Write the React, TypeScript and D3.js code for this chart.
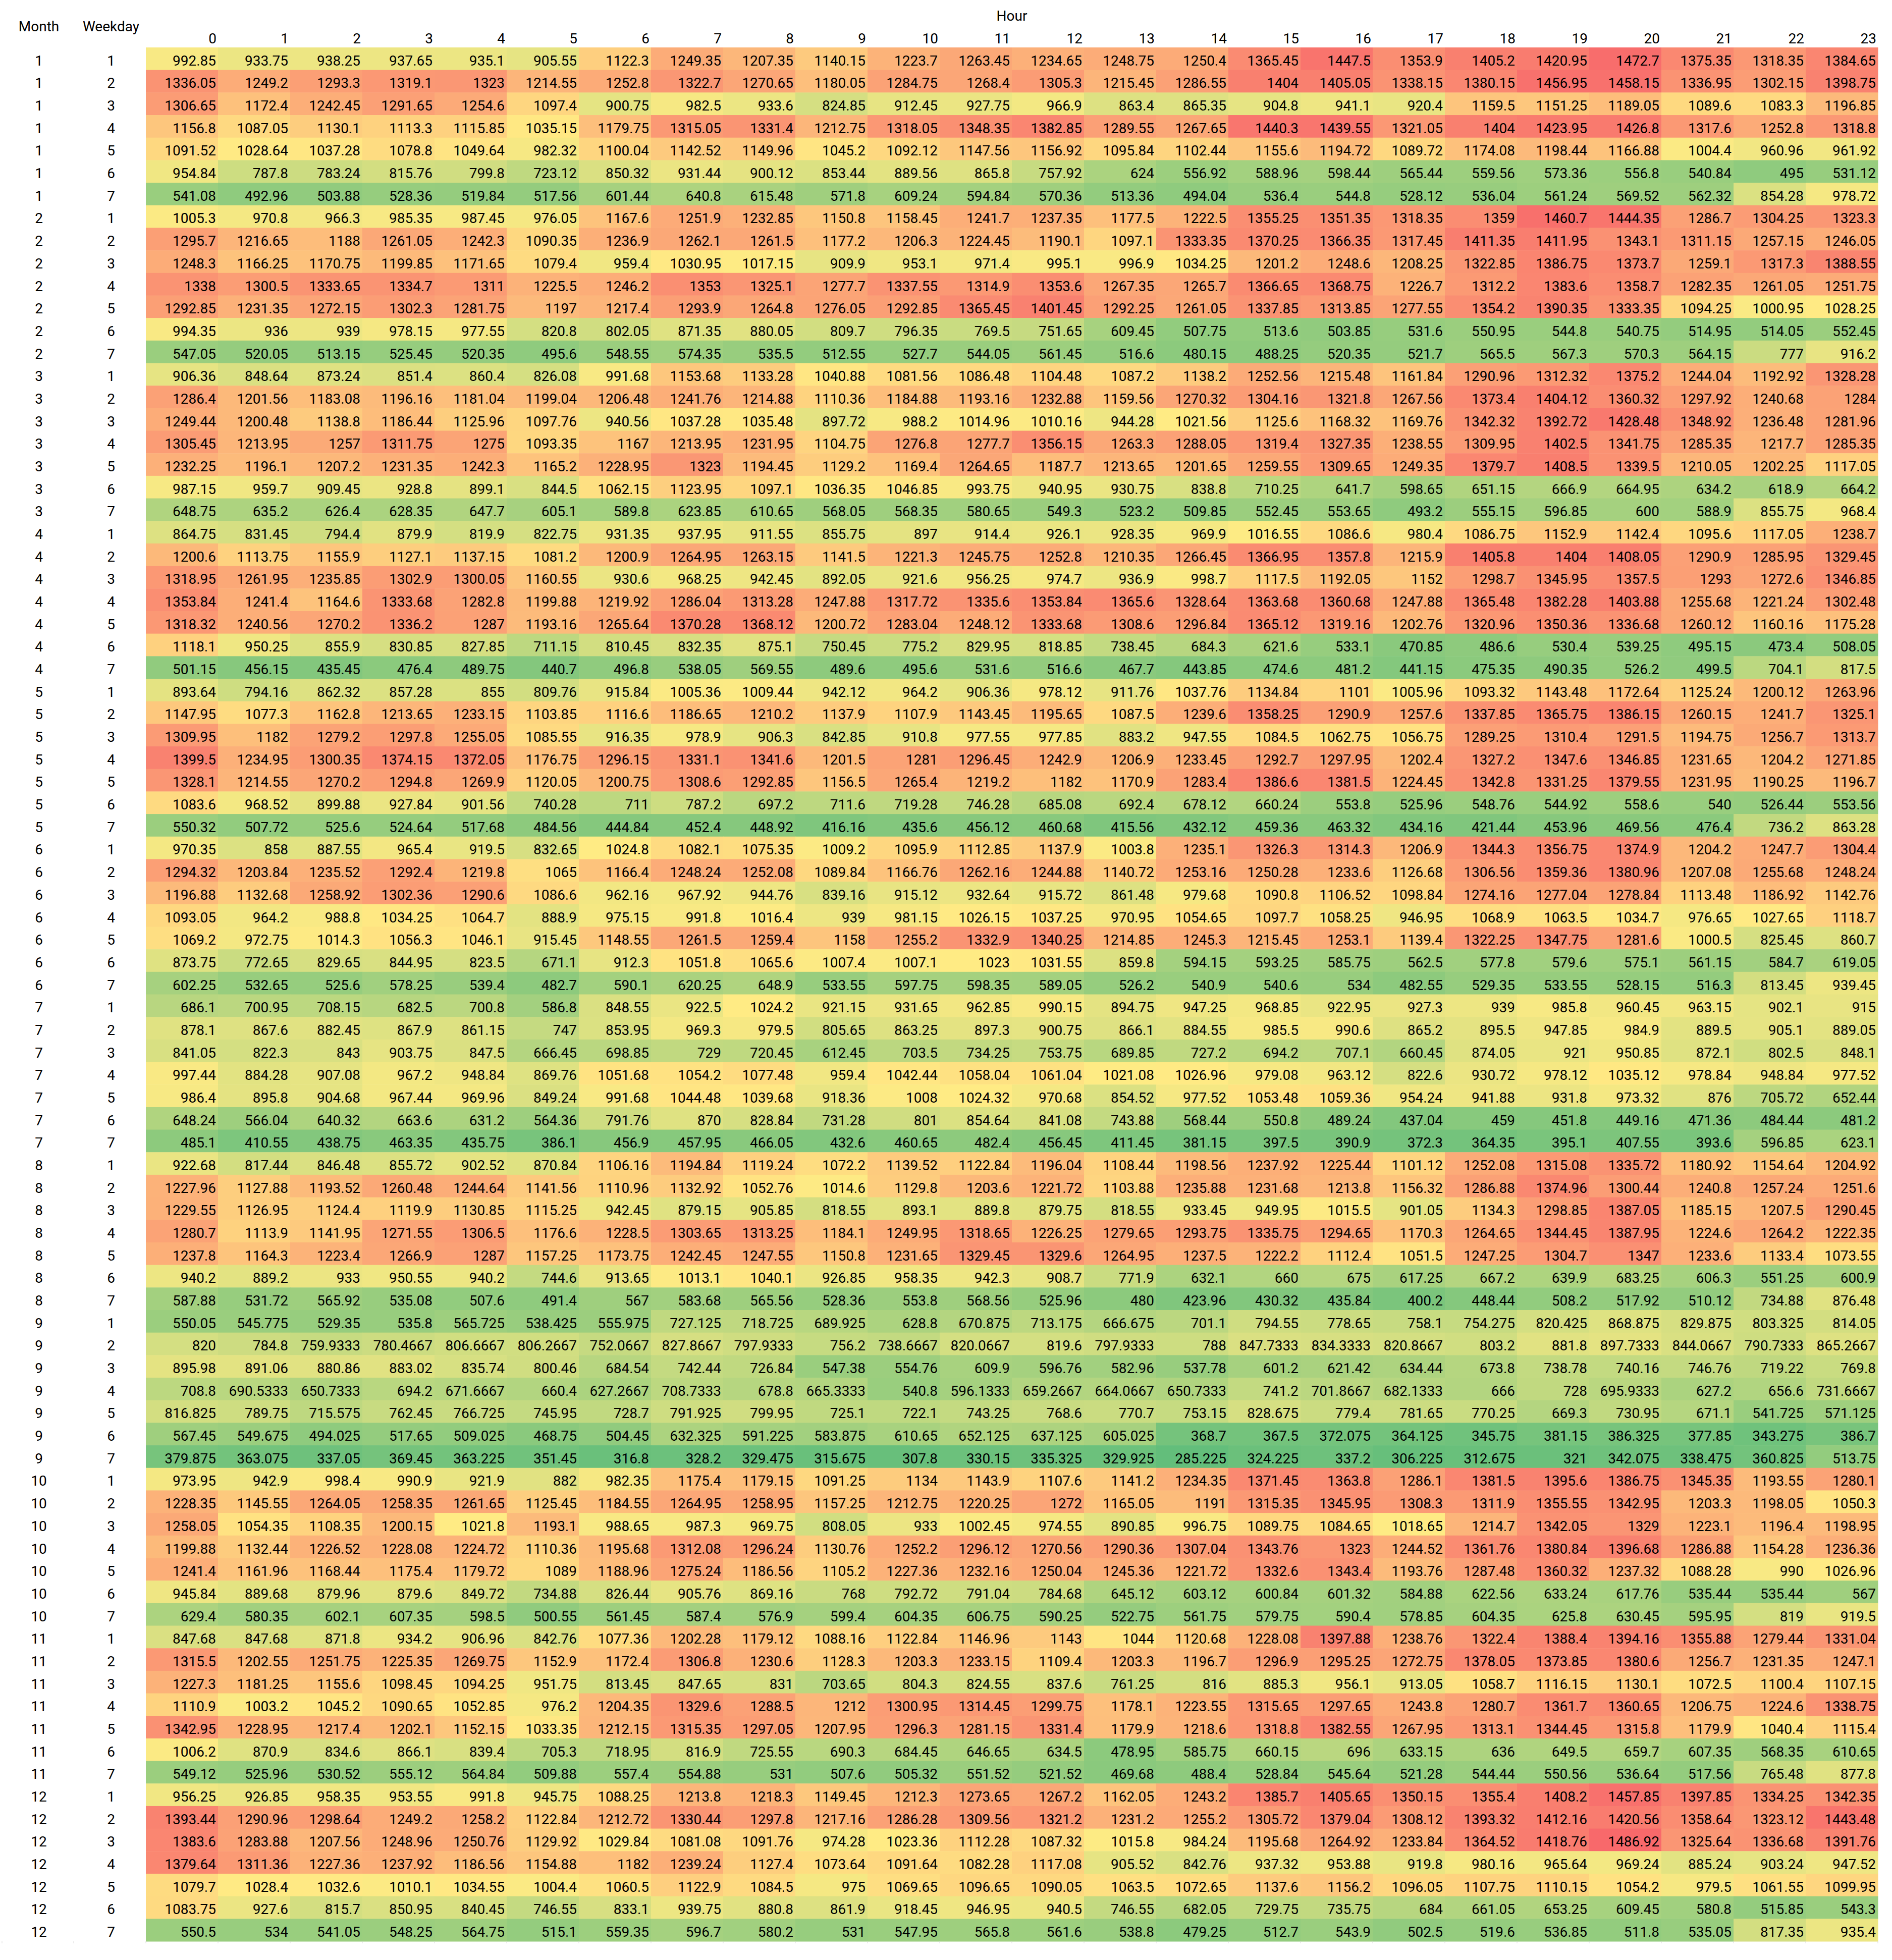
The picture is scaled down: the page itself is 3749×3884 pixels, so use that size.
import React from "react";
import * as d3 from "d3";

const hours = [0, 1, 2, 3, 4, 5, 6, 7, 8, 9, 10, 11, 12, 13, 14, 15, 16, 17, 18, 19, 20, 21, 22, 23];
const months = [1, 2, 3, 4, 5, 6, 7, 8, 9, 10, 11, 12];
const weekdays = [1, 2, 3, 4, 5, 6, 7];

// one array per month, one row per weekday, 24 hourly values
const month1 = [
  [992.85, 933.75, 938.25, 937.65, 935.1, 905.55, 1122.3, 1249.35, 1207.35, 1140.15, 1223.7, 1263.45, 1234.65, 1248.75, 1250.4, 1365.45, 1447.5, 1353.9, 1405.2, 1420.95, 1472.7, 1375.35, 1318.35, 1384.65],
  [1336.05, 1249.2, 1293.3, 1319.1, 1323, 1214.55, 1252.8, 1322.7, 1270.65, 1180.05, 1284.75, 1268.4, 1305.3, 1215.45, 1286.55, 1404, 1405.05, 1338.15, 1380.15, 1456.95, 1458.15, 1336.95, 1302.15, 1398.75],
  [1306.65, 1172.4, 1242.45, 1291.65, 1254.6, 1097.4, 900.75, 982.5, 933.6, 824.85, 912.45, 927.75, 966.9, 863.4, 865.35, 904.8, 941.1, 920.4, 1159.5, 1151.25, 1189.05, 1089.6, 1083.3, 1196.85],
  [1156.8, 1087.05, 1130.1, 1113.3, 1115.85, 1035.15, 1179.75, 1315.05, 1331.4, 1212.75, 1318.05, 1348.35, 1382.85, 1289.55, 1267.65, 1440.3, 1439.55, 1321.05, 1404, 1423.95, 1426.8, 1317.6, 1252.8, 1318.8],
  [1091.52, 1028.64, 1037.28, 1078.8, 1049.64, 982.32, 1100.04, 1142.52, 1149.96, 1045.2, 1092.12, 1147.56, 1156.92, 1095.84, 1102.44, 1155.6, 1194.72, 1089.72, 1174.08, 1198.44, 1166.88, 1004.4, 960.96, 961.92],
  [954.84, 787.8, 783.24, 815.76, 799.8, 723.12, 850.32, 931.44, 900.12, 853.44, 889.56, 865.8, 757.92, 624, 556.92, 588.96, 598.44, 565.44, 559.56, 573.36, 556.8, 540.84, 495, 531.12],
  [541.08, 492.96, 503.88, 528.36, 519.84, 517.56, 601.44, 640.8, 615.48, 571.8, 609.24, 594.84, 570.36, 513.36, 494.04, 536.4, 544.8, 528.12, 536.04, 561.24, 569.52, 562.32, 854.28, 978.72],
];
const month2 = [
  [1005.3, 970.8, 966.3, 985.35, 987.45, 976.05, 1167.6, 1251.9, 1232.85, 1150.8, 1158.45, 1241.7, 1237.35, 1177.5, 1222.5, 1355.25, 1351.35, 1318.35, 1359, 1460.7, 1444.35, 1286.7, 1304.25, 1323.3],
  [1295.7, 1216.65, 1188, 1261.05, 1242.3, 1090.35, 1236.9, 1262.1, 1261.5, 1177.2, 1206.3, 1224.45, 1190.1, 1097.1, 1333.35, 1370.25, 1366.35, 1317.45, 1411.35, 1411.95, 1343.1, 1311.15, 1257.15, 1246.05],
  [1248.3, 1166.25, 1170.75, 1199.85, 1171.65, 1079.4, 959.4, 1030.95, 1017.15, 909.9, 953.1, 971.4, 995.1, 996.9, 1034.25, 1201.2, 1248.6, 1208.25, 1322.85, 1386.75, 1373.7, 1259.1, 1317.3, 1388.55],
  [1338, 1300.5, 1333.65, 1334.7, 1311, 1225.5, 1246.2, 1353, 1325.1, 1277.7, 1337.55, 1314.9, 1353.6, 1267.35, 1265.7, 1366.65, 1368.75, 1226.7, 1312.2, 1383.6, 1358.7, 1282.35, 1261.05, 1251.75],
  [1292.85, 1231.35, 1272.15, 1302.3, 1281.75, 1197, 1217.4, 1293.9, 1264.8, 1276.05, 1292.85, 1365.45, 1401.45, 1292.25, 1261.05, 1337.85, 1313.85, 1277.55, 1354.2, 1390.35, 1333.35, 1094.25, 1000.95, 1028.25],
  [994.35, 936, 939, 978.15, 977.55, 820.8, 802.05, 871.35, 880.05, 809.7, 796.35, 769.5, 751.65, 609.45, 507.75, 513.6, 503.85, 531.6, 550.95, 544.8, 540.75, 514.95, 514.05, 552.45],
  [547.05, 520.05, 513.15, 525.45, 520.35, 495.6, 548.55, 574.35, 535.5, 512.55, 527.7, 544.05, 561.45, 516.6, 480.15, 488.25, 520.35, 521.7, 565.5, 567.3, 570.3, 564.15, 777, 916.2],
];
const month3 = [
  [906.36, 848.64, 873.24, 851.4, 860.4, 826.08, 991.68, 1153.68, 1133.28, 1040.88, 1081.56, 1086.48, 1104.48, 1087.2, 1138.2, 1252.56, 1215.48, 1161.84, 1290.96, 1312.32, 1375.2, 1244.04, 1192.92, 1328.28],
  [1286.4, 1201.56, 1183.08, 1196.16, 1181.04, 1199.04, 1206.48, 1241.76, 1214.88, 1110.36, 1184.88, 1193.16, 1232.88, 1159.56, 1270.32, 1304.16, 1321.8, 1267.56, 1373.4, 1404.12, 1360.32, 1297.92, 1240.68, 1284],
  [1249.44, 1200.48, 1138.8, 1186.44, 1125.96, 1097.76, 940.56, 1037.28, 1035.48, 897.72, 988.2, 1014.96, 1010.16, 944.28, 1021.56, 1125.6, 1168.32, 1169.76, 1342.32, 1392.72, 1428.48, 1348.92, 1236.48, 1281.96],
  [1305.45, 1213.95, 1257, 1311.75, 1275, 1093.35, 1167, 1213.95, 1231.95, 1104.75, 1276.8, 1277.7, 1356.15, 1263.3, 1288.05, 1319.4, 1327.35, 1238.55, 1309.95, 1402.5, 1341.75, 1285.35, 1217.7, 1285.35],
  [1232.25, 1196.1, 1207.2, 1231.35, 1242.3, 1165.2, 1228.95, 1323, 1194.45, 1129.2, 1169.4, 1264.65, 1187.7, 1213.65, 1201.65, 1259.55, 1309.65, 1249.35, 1379.7, 1408.5, 1339.5, 1210.05, 1202.25, 1117.05],
  [987.15, 959.7, 909.45, 928.8, 899.1, 844.5, 1062.15, 1123.95, 1097.1, 1036.35, 1046.85, 993.75, 940.95, 930.75, 838.8, 710.25, 641.7, 598.65, 651.15, 666.9, 664.95, 634.2, 618.9, 664.2],
  [648.75, 635.2, 626.4, 628.35, 647.7, 605.1, 589.8, 623.85, 610.65, 568.05, 568.35, 580.65, 549.3, 523.2, 509.85, 552.45, 553.65, 493.2, 555.15, 596.85, 600, 588.9, 855.75, 968.4],
];
const month4 = [
  [864.75, 831.45, 794.4, 879.9, 819.9, 822.75, 931.35, 937.95, 911.55, 855.75, 897, 914.4, 926.1, 928.35, 969.9, 1016.55, 1086.6, 980.4, 1086.75, 1152.9, 1142.4, 1095.6, 1117.05, 1238.7],
  [1200.6, 1113.75, 1155.9, 1127.1, 1137.15, 1081.2, 1200.9, 1264.95, 1263.15, 1141.5, 1221.3, 1245.75, 1252.8, 1210.35, 1266.45, 1366.95, 1357.8, 1215.9, 1405.8, 1404, 1408.05, 1290.9, 1285.95, 1329.45],
  [1318.95, 1261.95, 1235.85, 1302.9, 1300.05, 1160.55, 930.6, 968.25, 942.45, 892.05, 921.6, 956.25, 974.7, 936.9, 998.7, 1117.5, 1192.05, 1152, 1298.7, 1345.95, 1357.5, 1293, 1272.6, 1346.85],
  [1353.84, 1241.4, 1164.6, 1333.68, 1282.8, 1199.88, 1219.92, 1286.04, 1313.28, 1247.88, 1317.72, 1335.6, 1353.84, 1365.6, 1328.64, 1363.68, 1360.68, 1247.88, 1365.48, 1382.28, 1403.88, 1255.68, 1221.24, 1302.48],
  [1318.32, 1240.56, 1270.2, 1336.2, 1287, 1193.16, 1265.64, 1370.28, 1368.12, 1200.72, 1283.04, 1248.12, 1333.68, 1308.6, 1296.84, 1365.12, 1319.16, 1202.76, 1320.96, 1350.36, 1336.68, 1260.12, 1160.16, 1175.28],
  [1118.1, 950.25, 855.9, 830.85, 827.85, 711.15, 810.45, 832.35, 875.1, 750.45, 775.2, 829.95, 818.85, 738.45, 684.3, 621.6, 533.1, 470.85, 486.6, 530.4, 539.25, 495.15, 473.4, 508.05],
  [501.15, 456.15, 435.45, 476.4, 489.75, 440.7, 496.8, 538.05, 569.55, 489.6, 495.6, 531.6, 516.6, 467.7, 443.85, 474.6, 481.2, 441.15, 475.35, 490.35, 526.2, 499.5, 704.1, 817.5],
];
const month5 = [
  [893.64, 794.16, 862.32, 857.28, 855, 809.76, 915.84, 1005.36, 1009.44, 942.12, 964.2, 906.36, 978.12, 911.76, 1037.76, 1134.84, 1101, 1005.96, 1093.32, 1143.48, 1172.64, 1125.24, 1200.12, 1263.96],
  [1147.95, 1077.3, 1162.8, 1213.65, 1233.15, 1103.85, 1116.6, 1186.65, 1210.2, 1137.9, 1107.9, 1143.45, 1195.65, 1087.5, 1239.6, 1358.25, 1290.9, 1257.6, 1337.85, 1365.75, 1386.15, 1260.15, 1241.7, 1325.1],
  [1309.95, 1182, 1279.2, 1297.8, 1255.05, 1085.55, 916.35, 978.9, 906.3, 842.85, 910.8, 977.55, 977.85, 883.2, 947.55, 1084.5, 1062.75, 1056.75, 1289.25, 1310.4, 1291.5, 1194.75, 1256.7, 1313.7],
  [1399.5, 1234.95, 1300.35, 1374.15, 1372.05, 1176.75, 1296.15, 1331.1, 1341.6, 1201.5, 1281, 1296.45, 1242.9, 1206.9, 1233.45, 1292.7, 1297.95, 1202.4, 1327.2, 1347.6, 1346.85, 1231.65, 1204.2, 1271.85],
  [1328.1, 1214.55, 1270.2, 1294.8, 1269.9, 1120.05, 1200.75, 1308.6, 1292.85, 1156.5, 1265.4, 1219.2, 1182, 1170.9, 1283.4, 1386.6, 1381.5, 1224.45, 1342.8, 1331.25, 1379.55, 1231.95, 1190.25, 1196.7],
  [1083.6, 968.52, 899.88, 927.84, 901.56, 740.28, 711, 787.2, 697.2, 711.6, 719.28, 746.28, 685.08, 692.4, 678.12, 660.24, 553.8, 525.96, 548.76, 544.92, 558.6, 540, 526.44, 553.56],
  [550.32, 507.72, 525.6, 524.64, 517.68, 484.56, 444.84, 452.4, 448.92, 416.16, 435.6, 456.12, 460.68, 415.56, 432.12, 459.36, 463.32, 434.16, 421.44, 453.96, 469.56, 476.4, 736.2, 863.28],
];
const month6 = [
  [970.35, 858, 887.55, 965.4, 919.5, 832.65, 1024.8, 1082.1, 1075.35, 1009.2, 1095.9, 1112.85, 1137.9, 1003.8, 1235.1, 1326.3, 1314.3, 1206.9, 1344.3, 1356.75, 1374.9, 1204.2, 1247.7, 1304.4],
  [1294.32, 1203.84, 1235.52, 1292.4, 1219.8, 1065, 1166.4, 1248.24, 1252.08, 1089.84, 1166.76, 1262.16, 1244.88, 1140.72, 1253.16, 1250.28, 1233.6, 1126.68, 1306.56, 1359.36, 1380.96, 1207.08, 1255.68, 1248.24],
  [1196.88, 1132.68, 1258.92, 1302.36, 1290.6, 1086.6, 962.16, 967.92, 944.76, 839.16, 915.12, 932.64, 915.72, 861.48, 979.68, 1090.8, 1106.52, 1098.84, 1274.16, 1277.04, 1278.84, 1113.48, 1186.92, 1142.76],
  [1093.05, 964.2, 988.8, 1034.25, 1064.7, 888.9, 975.15, 991.8, 1016.4, 939, 981.15, 1026.15, 1037.25, 970.95, 1054.65, 1097.7, 1058.25, 946.95, 1068.9, 1063.5, 1034.7, 976.65, 1027.65, 1118.7],
  [1069.2, 972.75, 1014.3, 1056.3, 1046.1, 915.45, 1148.55, 1261.5, 1259.4, 1158, 1255.2, 1332.9, 1340.25, 1214.85, 1245.3, 1215.45, 1253.1, 1139.4, 1322.25, 1347.75, 1281.6, 1000.5, 825.45, 860.7],
  [873.75, 772.65, 829.65, 844.95, 823.5, 671.1, 912.3, 1051.8, 1065.6, 1007.4, 1007.1, 1023, 1031.55, 859.8, 594.15, 593.25, 585.75, 562.5, 577.8, 579.6, 575.1, 561.15, 584.7, 619.05],
  [602.25, 532.65, 525.6, 578.25, 539.4, 482.7, 590.1, 620.25, 648.9, 533.55, 597.75, 598.35, 589.05, 526.2, 540.9, 540.6, 534, 482.55, 529.35, 533.55, 528.15, 516.3, 813.45, 939.45],
];
const month7 = [
  [686.1, 700.95, 708.15, 682.5, 700.8, 586.8, 848.55, 922.5, 1024.2, 921.15, 931.65, 962.85, 990.15, 894.75, 947.25, 968.85, 922.95, 927.3, 939, 985.8, 960.45, 963.15, 902.1, 915],
  [878.1, 867.6, 882.45, 867.9, 861.15, 747, 853.95, 969.3, 979.5, 805.65, 863.25, 897.3, 900.75, 866.1, 884.55, 985.5, 990.6, 865.2, 895.5, 947.85, 984.9, 889.5, 905.1, 889.05],
  [841.05, 822.3, 843, 903.75, 847.5, 666.45, 698.85, 729, 720.45, 612.45, 703.5, 734.25, 753.75, 689.85, 727.2, 694.2, 707.1, 660.45, 874.05, 921, 950.85, 872.1, 802.5, 848.1],
  [997.44, 884.28, 907.08, 967.2, 948.84, 869.76, 1051.68, 1054.2, 1077.48, 959.4, 1042.44, 1058.04, 1061.04, 1021.08, 1026.96, 979.08, 963.12, 822.6, 930.72, 978.12, 1035.12, 978.84, 948.84, 977.52],
  [986.4, 895.8, 904.68, 967.44, 969.96, 849.24, 991.68, 1044.48, 1039.68, 918.36, 1008, 1024.32, 970.68, 854.52, 977.52, 1053.48, 1059.36, 954.24, 941.88, 931.8, 973.32, 876, 705.72, 652.44],
  [648.24, 566.04, 640.32, 663.6, 631.2, 564.36, 791.76, 870, 828.84, 731.28, 801, 854.64, 841.08, 743.88, 568.44, 550.8, 489.24, 437.04, 459, 451.8, 449.16, 471.36, 484.44, 481.2],
  [485.1, 410.55, 438.75, 463.35, 435.75, 386.1, 456.9, 457.95, 466.05, 432.6, 460.65, 482.4, 456.45, 411.45, 381.15, 397.5, 390.9, 372.3, 364.35, 395.1, 407.55, 393.6, 596.85, 623.1],
];
const month8 = [
  [922.68, 817.44, 846.48, 855.72, 902.52, 870.84, 1106.16, 1194.84, 1119.24, 1072.2, 1139.52, 1122.84, 1196.04, 1108.44, 1198.56, 1237.92, 1225.44, 1101.12, 1252.08, 1315.08, 1335.72, 1180.92, 1154.64, 1204.92],
  [1227.96, 1127.88, 1193.52, 1260.48, 1244.64, 1141.56, 1110.96, 1132.92, 1052.76, 1014.6, 1129.8, 1203.6, 1221.72, 1103.88, 1235.88, 1231.68, 1213.8, 1156.32, 1286.88, 1374.96, 1300.44, 1240.8, 1257.24, 1251.6],
  [1229.55, 1126.95, 1124.4, 1119.9, 1130.85, 1115.25, 942.45, 879.15, 905.85, 818.55, 893.1, 889.8, 879.75, 818.55, 933.45, 949.95, 1015.5, 901.05, 1134.3, 1298.85, 1387.05, 1185.15, 1207.5, 1290.45],
  [1280.7, 1113.9, 1141.95, 1271.55, 1306.5, 1176.6, 1228.5, 1303.65, 1313.25, 1184.1, 1249.95, 1318.65, 1226.25, 1279.65, 1293.75, 1335.75, 1294.65, 1170.3, 1264.65, 1344.45, 1387.95, 1224.6, 1264.2, 1222.35],
  [1237.8, 1164.3, 1223.4, 1266.9, 1287, 1157.25, 1173.75, 1242.45, 1247.55, 1150.8, 1231.65, 1329.45, 1329.6, 1264.95, 1237.5, 1222.2, 1112.4, 1051.5, 1247.25, 1304.7, 1347, 1233.6, 1133.4, 1073.55],
  [940.2, 889.2, 933, 950.55, 940.2, 744.6, 913.65, 1013.1, 1040.1, 926.85, 958.35, 942.3, 908.7, 771.9, 632.1, 660, 675, 617.25, 667.2, 639.9, 683.25, 606.3, 551.25, 600.9],
  [587.88, 531.72, 565.92, 535.08, 507.6, 491.4, 567, 583.68, 565.56, 528.36, 553.8, 568.56, 525.96, 480, 423.96, 430.32, 435.84, 400.2, 448.44, 508.2, 517.92, 510.12, 734.88, 876.48],
];
const month9 = [
  [550.05, 545.775, 529.35, 535.8, 565.725, 538.425, 555.975, 727.125, 718.725, 689.925, 628.8, 670.875, 713.175, 666.675, 701.1, 794.55, 778.65, 758.1, 754.275, 820.425, 868.875, 829.875, 803.325, 814.05],
  [820, 784.8, 759.9333, 780.4667, 806.6667, 806.2667, 752.0667, 827.8667, 797.9333, 756.2, 738.6667, 820.0667, 819.6, 797.9333, 788, 847.7333, 834.3333, 820.8667, 803.2, 881.8, 897.7333, 844.0667, 790.7333, 865.2667],
  [895.98, 891.06, 880.86, 883.02, 835.74, 800.46, 684.54, 742.44, 726.84, 547.38, 554.76, 609.9, 596.76, 582.96, 537.78, 601.2, 621.42, 634.44, 673.8, 738.78, 740.16, 746.76, 719.22, 769.8],
  [708.8, 690.5333, 650.7333, 694.2, 671.6667, 660.4, 627.2667, 708.7333, 678.8, 665.3333, 540.8, 596.1333, 659.2667, 664.0667, 650.7333, 741.2, 701.8667, 682.1333, 666, 728, 695.9333, 627.2, 656.6, 731.6667],
  [816.825, 789.75, 715.575, 762.45, 766.725, 745.95, 728.7, 791.925, 799.95, 725.1, 722.1, 743.25, 768.6, 770.7, 753.15, 828.675, 779.4, 781.65, 770.25, 669.3, 730.95, 671.1, 541.725, 571.125],
  [567.45, 549.675, 494.025, 517.65, 509.025, 468.75, 504.45, 632.325, 591.225, 583.875, 610.65, 652.125, 637.125, 605.025, 368.7, 367.5, 372.075, 364.125, 345.75, 381.15, 386.325, 377.85, 343.275, 386.7],
  [379.875, 363.075, 337.05, 369.45, 363.225, 351.45, 316.8, 328.2, 329.475, 315.675, 307.8, 330.15, 335.325, 329.925, 285.225, 324.225, 337.2, 306.225, 312.675, 321, 342.075, 338.475, 360.825, 513.75],
];
const month10 = [
  [973.95, 942.9, 998.4, 990.9, 921.9, 882, 982.35, 1175.4, 1179.15, 1091.25, 1134, 1143.9, 1107.6, 1141.2, 1234.35, 1371.45, 1363.8, 1286.1, 1381.5, 1395.6, 1386.75, 1345.35, 1193.55, 1280.1],
  [1228.35, 1145.55, 1264.05, 1258.35, 1261.65, 1125.45, 1184.55, 1264.95, 1258.95, 1157.25, 1212.75, 1220.25, 1272, 1165.05, 1191, 1315.35, 1345.95, 1308.3, 1311.9, 1355.55, 1342.95, 1203.3, 1198.05, 1050.3],
  [1258.05, 1054.35, 1108.35, 1200.15, 1021.8, 1193.1, 988.65, 987.3, 969.75, 808.05, 933, 1002.45, 974.55, 890.85, 996.75, 1089.75, 1084.65, 1018.65, 1214.7, 1342.05, 1329, 1223.1, 1196.4, 1198.95],
  [1199.88, 1132.44, 1226.52, 1228.08, 1224.72, 1110.36, 1195.68, 1312.08, 1296.24, 1130.76, 1252.2, 1296.12, 1270.56, 1290.36, 1307.04, 1343.76, 1323, 1244.52, 1361.76, 1380.84, 1396.68, 1286.88, 1154.28, 1236.36],
  [1241.4, 1161.96, 1168.44, 1175.4, 1179.72, 1089, 1188.96, 1275.24, 1186.56, 1105.2, 1227.36, 1232.16, 1250.04, 1245.36, 1221.72, 1332.6, 1343.4, 1193.76, 1287.48, 1360.32, 1237.32, 1088.28, 990, 1026.96],
  [945.84, 889.68, 879.96, 879.6, 849.72, 734.88, 826.44, 905.76, 869.16, 768, 792.72, 791.04, 784.68, 645.12, 603.12, 600.84, 601.32, 584.88, 622.56, 633.24, 617.76, 535.44, 535.44, 567],
  [629.4, 580.35, 602.1, 607.35, 598.5, 500.55, 561.45, 587.4, 576.9, 599.4, 604.35, 606.75, 590.25, 522.75, 561.75, 579.75, 590.4, 578.85, 604.35, 625.8, 630.45, 595.95, 819, 919.5],
];
const month11 = [
  [847.68, 847.68, 871.8, 934.2, 906.96, 842.76, 1077.36, 1202.28, 1179.12, 1088.16, 1122.84, 1146.96, 1143, 1044, 1120.68, 1228.08, 1397.88, 1238.76, 1322.4, 1388.4, 1394.16, 1355.88, 1279.44, 1331.04],
  [1315.5, 1202.55, 1251.75, 1225.35, 1269.75, 1152.9, 1172.4, 1306.8, 1230.6, 1128.3, 1203.3, 1233.15, 1109.4, 1203.3, 1196.7, 1296.9, 1295.25, 1272.75, 1378.05, 1373.85, 1380.6, 1256.7, 1231.35, 1247.1],
  [1227.3, 1181.25, 1155.6, 1098.45, 1094.25, 951.75, 813.45, 847.65, 831, 703.65, 804.3, 824.55, 837.6, 761.25, 816, 885.3, 956.1, 913.05, 1058.7, 1116.15, 1130.1, 1072.5, 1100.4, 1107.15],
  [1110.9, 1003.2, 1045.2, 1090.65, 1052.85, 976.2, 1204.35, 1329.6, 1288.5, 1212, 1300.95, 1314.45, 1299.75, 1178.1, 1223.55, 1315.65, 1297.65, 1243.8, 1280.7, 1361.7, 1360.65, 1206.75, 1224.6, 1338.75],
  [1342.95, 1228.95, 1217.4, 1202.1, 1152.15, 1033.35, 1212.15, 1315.35, 1297.05, 1207.95, 1296.3, 1281.15, 1331.4, 1179.9, 1218.6, 1318.8, 1382.55, 1267.95, 1313.1, 1344.45, 1315.8, 1179.9, 1040.4, 1115.4],
  [1006.2, 870.9, 834.6, 866.1, 839.4, 705.3, 718.95, 816.9, 725.55, 690.3, 684.45, 646.65, 634.5, 478.95, 585.75, 660.15, 696, 633.15, 636, 649.5, 659.7, 607.35, 568.35, 610.65],
  [549.12, 525.96, 530.52, 555.12, 564.84, 509.88, 557.4, 554.88, 531, 507.6, 505.32, 551.52, 521.52, 469.68, 488.4, 528.84, 545.64, 521.28, 544.44, 550.56, 536.64, 517.56, 765.48, 877.8],
];
const month12 = [
  [956.25, 926.85, 958.35, 953.55, 991.8, 945.75, 1088.25, 1213.8, 1218.3, 1149.45, 1212.3, 1273.65, 1267.2, 1162.05, 1243.2, 1385.7, 1405.65, 1350.15, 1355.4, 1408.2, 1457.85, 1397.85, 1334.25, 1342.35],
  [1393.44, 1290.96, 1298.64, 1249.2, 1258.2, 1122.84, 1212.72, 1330.44, 1297.8, 1217.16, 1286.28, 1309.56, 1321.2, 1231.2, 1255.2, 1305.72, 1379.04, 1308.12, 1393.32, 1412.16, 1420.56, 1358.64, 1323.12, 1443.48],
  [1383.6, 1283.88, 1207.56, 1248.96, 1250.76, 1129.92, 1029.84, 1081.08, 1091.76, 974.28, 1023.36, 1112.28, 1087.32, 1015.8, 984.24, 1195.68, 1264.92, 1233.84, 1364.52, 1418.76, 1486.92, 1325.64, 1336.68, 1391.76],
  [1379.64, 1311.36, 1227.36, 1237.92, 1186.56, 1154.88, 1182, 1239.24, 1127.4, 1073.64, 1091.64, 1082.28, 1117.08, 905.52, 842.76, 937.32, 953.88, 919.8, 980.16, 965.64, 969.24, 885.24, 903.24, 947.52],
  [1079.7, 1028.4, 1032.6, 1010.1, 1034.55, 1004.4, 1060.5, 1122.9, 1084.5, 975, 1069.65, 1096.65, 1090.05, 1063.5, 1072.65, 1137.6, 1156.2, 1096.05, 1107.75, 1110.15, 1054.2, 979.5, 1061.55, 1099.95],
  [1083.75, 927.6, 815.7, 850.95, 840.45, 746.55, 833.1, 939.75, 880.8, 861.9, 918.45, 946.95, 940.5, 746.55, 682.05, 729.75, 735.75, 684, 661.05, 653.25, 609.45, 580.8, 515.85, 543.3],
  [550.5, 534, 541.05, 548.25, 564.75, 515.1, 559.35, 596.7, 580.2, 531, 547.95, 565.8, 561.6, 538.8, 479.25, 512.7, 543.9, 502.5, 519.6, 536.85, 511.8, 535.05, 817.35, 935.4],
];

const monthValues = [month1, month2, month3, month4, month5, month6, month7, month8, month9, month10, month11, month12];

const W = 3749;
const H = 3884;
const FONT = "Roboto, 'Liberation Sans', sans-serif";
const FS = 28;

export default function App() {
  const rows = months.flatMap((m, mi) =>
    weekdays.map((w, wi) => ({ key: `${m}-${w}`, month: m, weekday: w, values: monthValues[mi][wi] }))
  );

  const x = d3.scaleBand<number>().domain(hours).range([289, 3721]);
  const y = d3.scaleBand<string>().domain(rows.map((r) => r.key)).range([94, 3847]);
  const bw = x.bandwidth();
  const bh = y.bandwidth();

  const all = rows.flatMap((r) => r.values);
  const lo = d3.min(all) as number;
  const hi = d3.max(all) as number;
  const mid = d3.quantile(all, 0.5) as number;
  const color = d3
    .scaleLinear<string>()
    .domain([lo, mid, hi])
    .range(["#63BE7B", "#FFEB84", "#F8696B"])
    .interpolate(d3.interpolateRgb);

  const base = bh * 0.8;
  const monthX = 77;
  const weekdayX = 220;
  const colEdges = [4, 146, ...hours.map((h) => x(h) as number), 3721];

  return (
    <svg
      width={W}
      height={H}
      viewBox={`0 0 ${W} ${H}`}
      style={{ position: "absolute", left: 0, top: 0, background: "#fff", display: "block" }}
      fontFamily={FONT}
      fontSize={FS}
    >
      <rect x={0} y={0} width={W} height={H} fill="#fff" />

      {/* headers */}
      <text x={(289 + 3721) / 2} y={41} textAnchor="middle">Hour</text>
      <text x={monthX} y={62} textAnchor="middle">Month</text>
      <text x={weekdayX} y={62} textAnchor="middle">Weekday</text>
      {hours.map((h) => (
        <text key={h} x={(x(h) as number) + bw - 3} y={86} textAnchor="end">
          {h}
        </text>
      ))}

      {/* cells */}
      {rows.map((r) => {
        const ry = y(r.key) as number;
        return (
          <g key={r.key}>
            <text x={monthX} y={ry + base} textAnchor="middle">{r.month}</text>
            <text x={weekdayX} y={ry + base} textAnchor="middle">{r.weekday}</text>
            {r.values.map((v, i) => (
              <rect
                key={i}
                x={x(hours[i])}
                y={ry}
                width={bw + 0.5}
                height={bh + 0.5}
                fill={color(v)}
              />
            ))}
            {r.values.map((v, i) => (
              <text key={"t" + i} x={(x(hours[i]) as number) + bw - 4} y={ry + base} textAnchor="end" fill="#000">
                {String(v)}
              </text>
            ))}
          </g>
        );
      })}

      {/* faint sheet gridline stubs below the table */}
      {colEdges.map((cx, i) => (
        <line key={i} x1={cx} x2={cx} y1={3847} y2={3851} stroke="#d9d9d9" strokeWidth={1} />
      ))}
    </svg>
  );
}
